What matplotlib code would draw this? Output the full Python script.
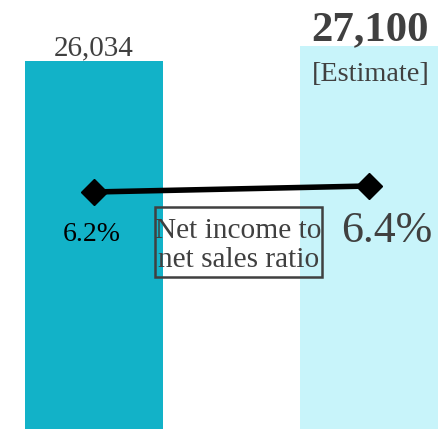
import matplotlib
matplotlib.use("Agg")
import matplotlib.pyplot as plt
from matplotlib.patches import Rectangle

# data
periods = ["Actual", "Estimate"]
net_sales = [26034, 27100]
sales_labels = ["26,034", "27,100"]
ratio = [6.2, 6.4]
ratio_labels = ["6.2%", "6.4%"]

DARK = "#12b2c8"
LIGHT = "#c8f4fa"
GREY = "#404040"
W, H = 444, 429

plt.rcParams["font.family"] = ["Liberation Serif", "DejaVu Serif"]

fig = plt.figure(figsize=(W / 100, H / 100), dpi=100)
ax = fig.add_axes([0, 0, 1, 1])
xs = list(range(len(periods)))

ax.bar(xs, net_sales, width=0.5, color=[DARK, LIGHT], zorder=1)
ax.set_xlim(-0.341, 1.272)
ax.set_ylim(0, 30350)
ax.axis("off")

# bar value labels
ax.annotate(sales_labels[0], xy=(xs[0], net_sales[0]), xytext=(0, 6),
            textcoords="offset pixels", ha="center", va="baseline",
            fontsize=21, color=GREY)
ax.annotate(sales_labels[1], xy=(xs[1], net_sales[1]), xytext=(1, 6),
            textcoords="offset pixels", ha="center", va="baseline",
            fontsize=30.8, fontweight="bold", color=GREY)
ax.annotate("[Estimate]", xy=(xs[1], net_sales[1]), xytext=(2, -35),
            textcoords="offset pixels", ha="center", va="baseline",
            fontsize=20.3, color=GREY)

# ratio line on a second axis
ax2 = ax.twinx()
ax2.set_position([0, 0, 1, 1])
ax2.set_ylim(-1.7, 12.6)
ax2.axis("off")
ax2.plot(xs, ratio, color="black", lw=4, marker="D", markersize=13, zorder=3)

ax2.annotate(ratio_labels[0], xy=(xs[0], ratio[0]), xytext=(-2, -49),
             textcoords="offset pixels", ha="center", va="baseline",
             fontsize=20, color="black")
ax2.annotate(ratio_labels[1], xy=(xs[1], ratio[1]), xytext=(18, -56),
             textcoords="offset pixels", ha="center", va="baseline",
             fontsize=31.6, color=GREY)

# legend-like label with its frame
fig.text(238.5 / W, 1 - 267 / H, "Net income to\nnet sales ratio", ha="center",
         va="baseline", fontsize=21.2, color=GREY, linespacing=1.16)
fig.patches.append(Rectangle((155 / W, 1 - 277 / H), 167 / W, 70 / H,
                             transform=fig.transFigure, fill=False,
                             ec=GREY, lw=1.8))

fig.savefig("out.png", dpi=100)
